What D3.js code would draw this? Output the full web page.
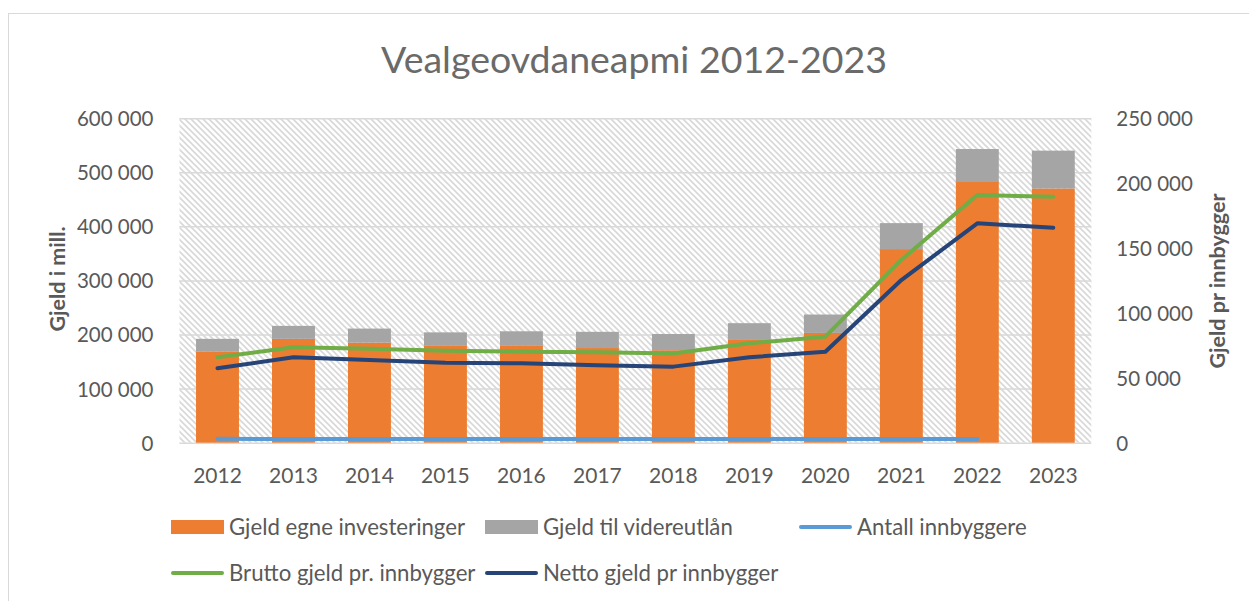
<!DOCTYPE html>
<meta charset="utf-8">
<script src="https://d3js.org/d3.v7.min.js"></script>
<style>
  body { margin: 0; background: #fff; }
  text { font-family: Lato, "Open Sans", sans-serif; fill: #595959; }
</style>
<div id="chart"></div>
<script>
// data
const years = ["2012", "2013", "2014", "2015", "2016", "2017", "2018", "2019", "2020", "2021", "2022", "2023"];
const gjeldEgne = [168000, 192000, 185000, 179000, 179000, 175000, 171000, 190000, 203000, 358000, 482000, 470000];
const gjeldVidere = [24000, 24000, 26000, 25000, 27000, 30000, 30000, 31000, 34000, 48000, 61000, 70000];
const antallInnbyggere = [2950, 2930, 2910, 2900, 2890, 2880, 2860, 2850, 2840, 2830, 2820, null];
const bruttoPrInnbygger = [65800, 73500, 72400, 70900, 70100, 69600, 68800, 76600, 81700, 140800, 190800, 189500];
const nettoPrInnbygger = [57300, 65800, 63700, 61600, 61200, 59600, 58600, 65800, 70100, 125300, 169000, 165600];
const leftTicks = [0, 100000, 200000, 300000, 400000, 500000, 600000];
const rightTicks = [0, 50000, 100000, 150000, 200000, 250000];
const seriesNames = ["Gjeld egne investeringer", "Gjeld til videreutlån", "Antall innbyggere",
                     "Brutto gjeld pr. innbygger", "Netto gjeld pr innbygger"];

const W = 1249, H = 601;
const plot = { left: 179.5, right: 1091.3, top: 118.2, bottom: 442.7 };
const colors = { egne: "#ED7D31", videre: "#A5A5A5", antall: "#5B9BD5", brutto: "#70AD47", netto: "#264478" };
const fmt = v => d3.format(",")(v).replace(/,/g, " ");

const svg = d3.select("#chart").append("svg")
    .attr("width", W).attr("height", H);

svg.append("rect").attr("width", W).attr("height", H).attr("fill", "#fff");
// chart border (cropped on the right and bottom in the reference)
svg.append("rect")
    .attr("x", 8.5).attr("y", 13.5).attr("width", W + 10).attr("height", H + 10)
    .attr("fill", "none").attr("stroke", "#d9d9d9").attr("stroke-width", 1);

// hatched plot background
const defs = svg.append("defs");
const pat = defs.append("pattern")
    .attr("id", "hatch").attr("patternUnits", "userSpaceOnUse")
    .attr("width", 6).attr("height", 6);
pat.append("rect").attr("width", 6).attr("height", 6).attr("fill", "#fff");
pat.append("path")
    .attr("d", "M-1,-1 L7,7 M-1,5 L1,7 M5,-1 L7,1")
    .attr("stroke", "#d8d8d8").attr("stroke-width", 1.6);

svg.append("rect")
    .attr("x", plot.left).attr("y", plot.top)
    .attr("width", plot.right - plot.left).attr("height", plot.bottom - plot.top)
    .attr("fill", "url(#hatch)");

// scales
const x = d3.scaleBand().domain(years)
    .range([plot.left, plot.right])
    .paddingInner(0.435).paddingOuter(0.2175);
const yL = d3.scaleLinear().domain([0, 600000]).range([plot.bottom, plot.top]);
const yR = d3.scaleLinear().domain([0, 250000]).range([plot.bottom, plot.top]);
const cx = d => x(d) + x.bandwidth() / 2;

// gridlines
svg.append("g")
    .attr("transform", `translate(${plot.left},0)`)
    .call(d3.axisLeft(yL).tickValues(leftTicks).tickSize(-(plot.right - plot.left)).tickFormat(""))
    .call(g => g.select(".domain").remove())
    .call(g => g.selectAll("line").attr("stroke", "#d9d9d9").attr("stroke-width", 1.5));

// stacked bars
const rows = years.map((yr, i) => ({ year: yr, egne: gjeldEgne[i], videre: gjeldVidere[i] }));
const stack = d3.stack().keys(["egne", "videre"])(rows);
svg.append("g").selectAll("g")
    .data(stack).join("g")
    .attr("fill", d => colors[d.key])
    .selectAll("rect")
    .data(d => d).join("rect")
    .attr("x", d => x(d.data.year))
    .attr("width", x.bandwidth())
    .attr("y", d => yL(d[1]))
    .attr("height", d => yL(d[0]) - yL(d[1]));

// lines on the secondary axis
function drawLine(values, color) {
    const pts = years.map((yr, i) => ({ year: yr, v: values[i] }));
    svg.append("path")
        .datum(pts)
        .attr("fill", "none")
        .attr("stroke", color)
        .attr("stroke-width", 4)
        .attr("stroke-linecap", "round")
        .attr("stroke-linejoin", "round")
        .attr("d", d3.line()
            .defined(d => d.v != null)
            .x(d => cx(d.year))
            .y(d => yR(d.v)));
}
drawLine(antallInnbyggere, colors.antall);
drawLine(bruttoPrInnbygger, colors.brutto);
drawLine(nettoPrInnbygger, colors.netto);

// left axis labels
svg.append("g")
    .attr("transform", `translate(${plot.left - 23},0)`)
    .call(d3.axisLeft(yL).tickValues(leftTicks).tickSize(0).tickFormat(fmt))
    .call(g => g.select(".domain").remove())
    .call(g => g.selectAll("text").attr("font-size", 20.5).attr("dy", "0.36em")
        .style("font-family", "Lato").attr("fill", "#595959"));

// right axis labels
svg.append("g")
    .attr("transform", `translate(${plot.right + 22},0)`)
    .call(d3.axisRight(yR).tickValues(rightTicks).tickSize(0).tickFormat(fmt))
    .call(g => g.select(".domain").remove())
    .call(g => g.selectAll("text").attr("font-size", 20.5).attr("dy", "0.36em")
        .style("font-family", "Lato").attr("fill", "#595959"));

// x axis labels
svg.append("g")
    .attr("transform", `translate(0,${plot.bottom + 22})`)
    .call(d3.axisBottom(x).tickSize(0))
    .call(g => g.select(".domain").remove())
    .call(g => g.selectAll("text").attr("font-size", 21).attr("dy", "0.72em")
        .style("font-family", "Lato").attr("fill", "#595959"));

// title
svg.append("text")
    .attr("x", 634).attr("y", 73)
    .attr("text-anchor", "middle")
    .attr("font-size", 37.5)
    .style("fill", "#6a6a6a")
    .text("Vealgeovdaneapmi 2012-2023");

// axis titles
svg.append("text")
    .attr("transform", `translate(65,279) rotate(-90)`)
    .attr("text-anchor", "middle")
    .attr("font-size", 21.5).attr("font-weight", "bold")
    .text("Gjeld i mill.");
svg.append("text")
    .attr("transform", `translate(1225,281) rotate(-90)`)
    .attr("text-anchor", "middle")
    .attr("font-size", 21.5).attr("font-weight", "bold")
    .text("Gjeld pr innbygger");

// legend
const legendItems = [
    { name: seriesNames[0], type: "rect", color: colors.egne, col: 0, row: 0 },
    { name: seriesNames[1], type: "rect", color: colors.videre, col: 1, row: 0 },
    { name: seriesNames[2], type: "line", color: colors.antall, col: 2, row: 0 },
    { name: seriesNames[3], type: "line", color: colors.brutto, col: 0, row: 1 },
    { name: seriesNames[4], type: "line", color: colors.netto, col: 1, row: 1 }
];
const legend = svg.append("g").selectAll("g")
    .data(legendItems).join("g")
    .attr("transform", d => `translate(${171 + d.col * 314},${527 + d.row * 46})`);
legend.filter(d => d.type === "rect").append("rect")
    .attr("x", 0).attr("y", -7).attr("width", 53).attr("height", 14)
    .attr("fill", d => d.color);
legend.filter(d => d.type === "line").append("line")
    .attr("x1", 2).attr("x2", 51).attr("y1", 0).attr("y2", 0)
    .attr("stroke", d => d.color).attr("stroke-width", 4).attr("stroke-linecap", "round");
legend.append("text")
    .attr("x", 58).attr("dy", "0.36em")
    .attr("font-size", 22.2)
    .text(d => d.name);
</script>
